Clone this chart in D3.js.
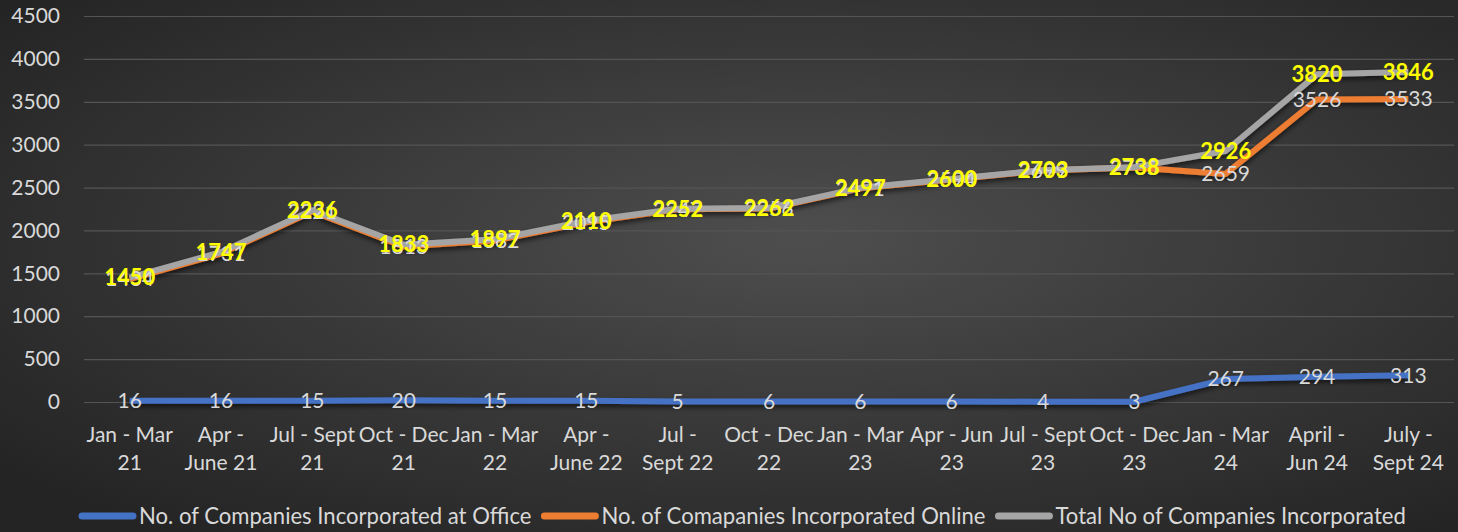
<!DOCTYPE html>
<html>
<head>
<meta charset="utf-8">
<script src="https://cdn.jsdelivr.net/npm/d3@7"></script>
<style>
  html, body { margin: 0; padding: 0; background: #2a2a2a; }
  svg { display: block; font-family: Lato, "Open Sans", sans-serif; }
</style>
</head>
<body>
<div id="root"></div>
<script>
const width = 1458, height = 532;

// quarters, each split over two lines as on the axis
const quarters = [
  ['Jan - Mar', '21'], ['Apr -', 'June 21'], ['Jul - Sept', '21'], ['Oct - Dec', '21'],
  ['Jan - Mar', '22'], ['Apr -', 'June 22'], ['Jul  -', 'Sept 22'], ['Oct - Dec', '22'],
  ['Jan - Mar', '23'], ['Apr - Jun', '23'], ['Jul - Sept', '23'], ['Oct - Dec', '23'],
  ['Jan - Mar', '24'], ['April -', 'Jun 24'], ['July -', 'Sept 24']
];
const atOffice = [16, 16, 15, 20, 15, 15, 5, 6, 6, 6, 4, 3, 267, 294, 313];
const online = [1434, 1731, 2221, 1813, 1882, 2095, 2247, 2256, 2491, 2594, 2699, 2735, 2659, 3526, 3533];
const total = [1450, 1747, 2236, 1833, 1897, 2110, 2252, 2262, 2497, 2600, 2703, 2738, 2926, 3820, 3846];
const yTicks = [0, 500, 1000, 1500, 2000, 2500, 3000, 3500, 4000, 4500];

const seriesNames = ['No. of Companies Incorporated at Office', 'No. of Comapanies Incorporated Online', 'Total No of Companies Incorporated'];
const colors = ['#4472c4', '#ed7d31', '#a5a5a5'];

const svg = d3.select('#root').append('svg')
  .attr('width', width)
  .attr('height', height);

const defs = svg.append('defs');
const grad = defs.append('radialGradient')
  .attr('id', 'bg')
  .attr('cx', '55%').attr('cy', '45%').attr('r', '70%');
grad.append('stop').attr('offset', '0%').attr('stop-color', '#4e4e4e');
grad.append('stop').attr('offset', '100%').attr('stop-color', '#242424');

const shadow = defs.append('filter').attr('id', 'shadow')
  .attr('x', '-5%').attr('y', '-20%').attr('width', '110%').attr('height', '140%');
shadow.append('feDropShadow')
  .attr('dx', 0).attr('dy', 3).attr('stdDeviation', 2.5)
  .attr('flood-color', '#000').attr('flood-opacity', 0.6);

svg.append('rect').attr('width', width).attr('height', height).attr('fill', 'url(#bg)');

const x = d3.scalePoint()
  .domain(d3.range(quarters.length))
  .range([84, 1454])
  .padding(0.5);
const y = d3.scaleLinear().domain([0, 4500]).range([402, 16]);

// grid + y labels
const yAxis = svg.append('g')
  .attr('transform', 'translate(84,0)')
  .call(d3.axisLeft(y).tickValues(yTicks).tickFormat(d3.format('d')).tickSize(-1370).tickPadding(24));
yAxis.select('.domain').remove();
yAxis.selectAll('line').attr('stroke', '#545454').attr('stroke-width', 1.2);
yAxis.selectAll('text')
  .attr('fill', '#d9d9d9')
  .style('font-size', '21px')
  .style('font-family', 'Lato, sans-serif');

// x labels
const xl = svg.append('g').selectAll('text')
  .data(quarters).enter()
  .append('text')
  .attr('x', (d, i) => x(i))
  .attr('text-anchor', 'middle')
  .attr('fill', '#d9d9d9')
  .style('font-size', '21px');
xl.append('tspan').attr('x', (d, i) => x(i)).attr('y', 442).text(d => d[0]);
xl.append('tspan').attr('x', (d, i) => x(i)).attr('y', 470).text(d => d[1]);

const line = d3.line().x((d, i) => x(i)).y(d => y(d));
const allSeries = [atOffice, online, total];

svg.append('g').attr('filter', 'url(#shadow)')
  .selectAll('path')
  .data(allSeries).enter()
  .append('path')
  .attr('d', line)
  .attr('fill', 'none')
  .attr('stroke', (d, i) => colors[i])
  .attr('stroke-width', 6)
  .attr('stroke-linejoin', 'round');

// data labels
function labels(values, fill, weight, size) {
  svg.append('g').selectAll('text')
    .data(values).enter()
    .append('text')
    .attr('x', (d, i) => x(i))
    .attr('y', d => y(d))
    .attr('dy', '0.35em')
    .attr('text-anchor', 'middle')
    .attr('fill', fill)
    .style('font-size', size)
    .style('font-weight', weight)
    .text(d => d);
}
labels(atOffice, '#d9d9d9', 'normal', '21px');
labels(online, '#d9d9d9', 'normal', '21px');
labels(total, '#ffff00', 'bold', '22px');

// legend
const legend = svg.append('g').attr('transform', 'translate(0,516)');
let lx = 78;
seriesNames.forEach((name, i) => {
  legend.append('line')
    .attr('x1', lx + 4).attr('x2', lx + 55)
    .attr('stroke', colors[i]).attr('stroke-width', 7)
    .attr('stroke-linecap', 'round');
  const t = legend.append('text')
    .attr('x', lx + 61)
    .attr('dy', '0.35em')
    .attr('fill', '#d9d9d9')
    .style('font-size', '22.1px')
    .text(name);
  lx += 61 + t.node().getComputedTextLength() + 9;
});
</script>
</body>
</html>
